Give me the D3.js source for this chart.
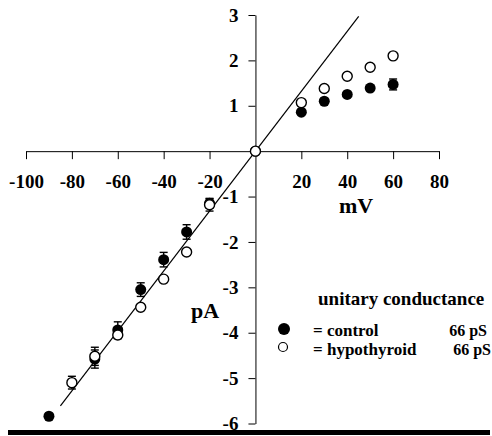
<!DOCTYPE html>
<html>
<head>
<meta charset="utf-8">
<script src="https://cdn.jsdelivr.net/npm/d3@7"></script>
<style>
  body { margin: 0; background: #fff; }
  svg { display: block; }
</style>
</head>
<body>
<div id="vis"></div>
<script>
const W = 492, H = 436;
const FONT = "'Liberation Serif', 'Times New Roman', Times, 'DejaVu Serif', serif";

// membrane potential (mV)
const voltages = [-90, -80, -70, -60, -50, -40, -30, -20, 0, 20, 30, 40, 50, 60];
// single channel current (pA), null = no point
const controlCurrent = [-5.84, null, -4.58, -3.94, -3.05, -2.39, -1.78, -1.15, 0, 0.86, 1.10, 1.25, 1.39, 1.47];
const controlErr     = [0, 0, 0.2, 0.18, 0.15, 0.16, 0.16, 0.1, 0, 0.04, 0.04, 0.04, 0.05, 0.12];
const hypoCurrent    = [null, -5.10, -4.52, -4.05, -3.44, -2.82, -2.22, -1.18, 0, 1.07, 1.38, 1.65, 1.85, 2.10];
const hypoErr        = [0, 0.14, 0.2, 0.08, 0, 0, 0, 0.14, 0, 0, 0, 0, 0, 0];
// regression line end points (66 pS)
const fitLine = [{ v: -85, i: -5.61 }, { v: 45, i: 2.97 }];

const xTicks = [-100, -80, -60, -40, -20, 20, 40, 60, 80];
const yTicks = [3, 2, 1, -1, -2, -3, -4, -5, -6];

const x = d3.scaleLinear().domain([-100, 80]).range([26, 439]);
const y = d3.scaleLinear().domain([-6, 3]).range([423.5, 15]);

const svg = d3.select("#vis").append("svg")
    .attr("width", W)
    .attr("height", H)
    .attr("font-family", FONT)
    .attr("font-weight", "bold");

function label(sel, size) {
    return sel.attr("font-family", FONT)
        .style("font-family", FONT)
        .style("font-weight", "bold")
        .style("font-size", size + "px")
        .attr("fill", "#000");
}

// plain hyphen for negatives, like the original figure
const fmt = d => String(d);

// x axis through origin, ticks pointing down
const xAxis = svg.append("g")
    .attr("transform", `translate(0,${y(0)})`)
    .call(d3.axisBottom(x).tickValues(xTicks).tickFormat(fmt).tickSize(8).tickSizeOuter(0));
xAxis.attr("font-family", FONT);
xAxis.select(".domain").attr("stroke", "#000");
label(xAxis.selectAll("text"), 19).attr("y", 23).attr("dy", "0.71em");

// y axis through origin, ticks pointing left
const yAxis = svg.append("g")
    .attr("transform", `translate(${x(0)},0)`)
    .call(d3.axisLeft(y).tickValues(yTicks).tickFormat(fmt).tickSize(7).tickPadding(10).tickSizeOuter(0));
yAxis.attr("font-family", FONT);
yAxis.select(".domain").attr("stroke", "#000");
label(yAxis.selectAll("text"), 19);

label(svg.append("text"), 22)
    .attr("x", 356).attr("y", 213)
    .attr("text-anchor", "middle")
    .text("mV");

label(svg.append("text"), 22)
    .attr("x", 205).attr("y", 318)
    .attr("text-anchor", "middle")
    .text("pA");

// fitted line
svg.append("path")
    .datum(fitLine)
    .attr("d", d3.line().x(d => x(d.v)).y(d => y(d.i)))
    .attr("fill", "none")
    .attr("stroke", "#000")
    .attr("stroke-width", 1.2);

function series(values, errs) {
    return voltages.map((v, k) => ({ v, i: values[k], e: errs[k] })).filter(d => d.i !== null);
}

function drawErrors(data) {
    const g = svg.append("g").attr("stroke", "#000").attr("stroke-width", 1.4);
    data.filter(d => d.e > 0).forEach(d => {
        const cx = x(d.v);
        g.append("line").attr("x1", cx).attr("x2", cx).attr("y1", y(d.i + d.e)).attr("y2", y(d.i - d.e));
        [d.i + d.e, d.i - d.e].forEach(val => {
            g.append("line").attr("x1", cx - 4).attr("x2", cx + 4).attr("y1", y(val)).attr("y2", y(val));
        });
    });
}

const control = series(controlCurrent, controlErr);
const hypo = series(hypoCurrent, hypoErr);

drawErrors(control);
drawErrors(hypo);

svg.append("g").selectAll("circle")
    .data(control)
    .join("circle")
    .attr("cx", d => x(d.v))
    .attr("cy", d => y(d.i))
    .attr("r", 5.5)
    .attr("fill", "#000");

svg.append("g").selectAll("circle")
    .data(hypo)
    .join("circle")
    .attr("cx", d => x(d.v))
    .attr("cy", d => y(d.i))
    .attr("r", 5)
    .attr("fill", "#fff")
    .attr("stroke", "#000")
    .attr("stroke-width", 1.4);

// legend
label(svg.append("text"), 19)
    .attr("x", 318).attr("y", 305)
    .text("unitary conductance");

svg.append("circle").attr("cx", 284).attr("cy", 329).attr("r", 6).attr("fill", "#000");
label(svg.append("text"), 17).attr("x", 313).attr("y", 336).text("= control");
label(svg.append("text"), 16).attr("x", 487).attr("y", 336).attr("text-anchor", "end").text("66 pS");

svg.append("circle").attr("cx", 283).attr("cy", 347).attr("r", 4.5)
    .attr("fill", "#fff").attr("stroke", "#000").attr("stroke-width", 1.2);
label(svg.append("text"), 17).attr("x", 313).attr("y", 355).text("= hypothyroid");
label(svg.append("text"), 16).attr("x", 491).attr("y", 355).attr("text-anchor", "end").text("66 pS");

// heavy rule at the bottom
svg.append("rect")
    .attr("x", 8).attr("y", 430)
    .attr("width", 482).attr("height", 5)
    .attr("fill", "#000");
</script>
</body>
</html>
